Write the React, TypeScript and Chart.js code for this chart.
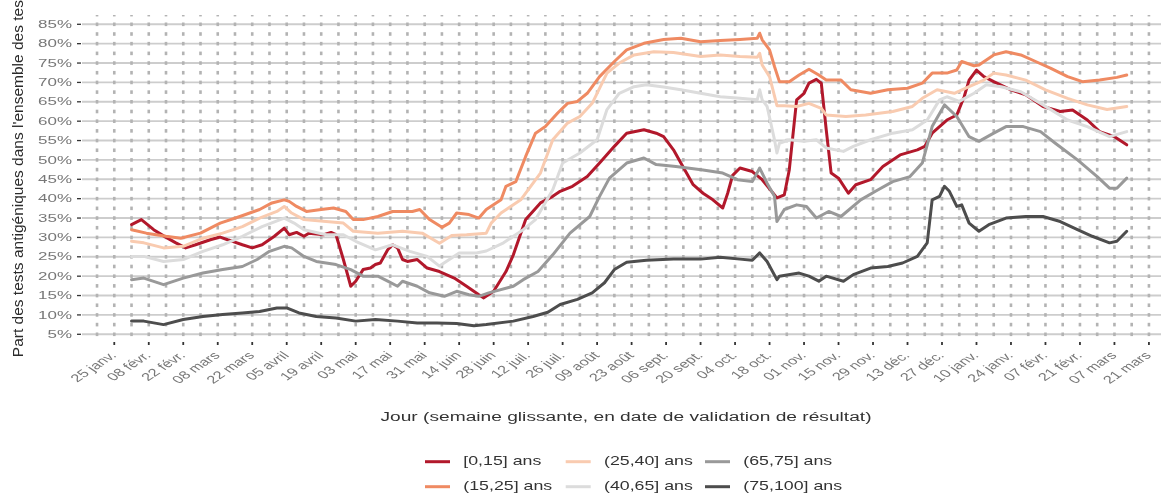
import React, { useEffect, useRef } from "react";
import { Chart, registerables } from "chart.js";

Chart.register(...registerables);

const W = 1161;
const H = 494;

// x = days since 25 Jan 2021 (data runs 1 Feb 2021 -> 12 Mar 2022)
const xTickLabels = [
  "25 janv.", "08 févr.", "22 févr.", "08 mars", "22 mars", "05 avril", "19 avril",
  "03 mai", "17 mai", "31 mai", "14 juin", "28 juin", "12 juil.", "26 juil.",
  "09 août", "23 août", "06 sept.", "20 sept.", "04 oct.", "18 oct.", "01 nov.",
  "15 nov.", "29 nov.", "13 déc.", "27 déc.", "10 janv.", "24 janv.", "07 févr.",
  "21 févr.", "07 mars", "21 mars",
];
const yTickValues = [5, 10, 15, 20, 25, 30, 35, 40, 45, 50, 55, 60, 65, 70, 75, 80, 85];

const seriesLabels = ["[0,15] ans", "(15,25] ans", "(25,40] ans", "(40,65] ans", "(65,75] ans", "(75,100] ans"];
const seriesColors = ["#B2182B", "#EF8A62", "#F9CBB0", "#DCDCDC", "#999999", "#4D4D4D"];

const age0_15Days = [7, 11, 16, 20, 25, 29, 33, 39, 43, 46, 48, 52, 56, 60, 65, 69, 71, 74, 77, 79, 85, 88, 90, 93, 96, 98, 101, 104, 106, 108, 111, 113, 115, 117, 119, 123, 127, 132, 138, 143, 148, 150, 154, 159, 162, 165, 167, 173, 178, 181, 186, 192, 197, 203, 208, 215, 220, 223, 227, 230, 235, 239, 243, 247, 249, 251, 254, 259, 263, 269, 272, 274, 276, 277, 280, 282, 285, 287, 289, 291, 294, 298, 301, 307, 312, 319, 326, 329, 332, 338, 342, 345, 347, 350, 353, 357, 364, 370, 377, 384, 389, 395, 400, 406, 411];
const age0_15Values = [33.3, 34.6, 32.0, 30.4, 28.6, 27.3, 28.1, 29.4, 30.1, 29.4, 29.0, 28.1, 27.3, 28.1, 30.3, 32.4, 30.7, 31.3, 30.3, 31.1, 30.7, 31.3, 30.7, 24.3, 17.4, 18.7, 21.7, 22.1, 23.0, 23.4, 26.8, 28.1, 27.3, 24.3, 23.8, 24.3, 22.1, 21.2, 19.5, 17.4, 15.2, 14.4, 16.1, 21.2, 25.5, 31.0, 34.6, 38.9, 40.6, 41.9, 43.2, 45.7, 49.2, 53.5, 56.9, 57.8, 56.9, 56.0, 52.6, 49.2, 43.6, 41.4, 39.7, 37.6, 41.4, 46.0, 47.9, 47.0, 44.9, 40.2, 41.0, 47.4, 59.5, 65.5, 67.2, 69.8, 70.8, 69.8, 57.8, 46.6, 45.3, 41.4, 43.6, 44.9, 48.3, 51.3, 52.6, 53.5, 56.9, 60.3, 61.6, 66.3, 70.6, 73.2, 71.5, 70.2, 68.1, 66.8, 63.8, 62.5, 62.9, 60.3, 57.3, 56.0, 53.9];

const age15_25Days = [7, 13, 21, 27, 35, 43, 51, 59, 64, 69, 71, 74, 78, 84, 89, 94, 97, 101, 107, 113, 121, 124, 128, 133, 136, 139, 144, 148, 151, 157, 159, 163, 167, 171, 175, 180, 184, 188, 192, 197, 203, 208, 215, 223, 230, 238, 246, 254, 261, 262, 263, 266, 268, 270, 274, 278, 282, 286, 289, 295, 299, 307, 314, 322, 328, 332, 338, 342, 344, 349, 351, 357, 362, 368, 374, 380, 387, 393, 400, 407, 411];
const age15_25Values = [32.0, 31.1, 30.3, 29.8, 31.1, 33.7, 35.4, 37.2, 38.9, 39.7, 39.3, 38.0, 36.7, 37.2, 37.6, 36.7, 34.6, 34.6, 35.4, 36.7, 36.7, 37.2, 34.6, 32.6, 33.7, 36.3, 35.9, 35.0, 37.2, 39.7, 43.2, 44.4, 50.9, 56.9, 58.6, 62.1, 64.6, 65.1, 67.2, 71.5, 75.4, 78.4, 80.1, 81.1, 81.4, 80.5, 80.8, 81.1, 81.4, 82.7, 81.0, 78.4, 74.1, 70.2, 70.2, 71.9, 73.4, 71.9, 70.6, 70.6, 68.1, 67.2, 68.1, 68.5, 69.8, 72.4, 72.4, 73.2, 75.4, 74.3, 74.5, 77.1, 77.9, 77.1, 75.4, 73.7, 71.5, 70.2, 70.6, 71.3, 71.9];

const age25_40Days = [7, 12, 20, 28, 36, 44, 52, 59, 66, 69, 72, 77, 86, 93, 97, 107, 117, 125, 132, 137, 143, 151, 153, 157, 165, 173, 178, 184, 189, 194, 200, 205, 211, 219, 227, 238, 246, 254, 261, 262, 263, 266, 269, 272, 277, 282, 287, 289, 297, 305, 316, 324, 328, 334, 341, 347, 353, 357, 362, 370, 378, 387, 395, 403, 411];
const age25_40Values = [29.0, 28.6, 27.3, 27.7, 29.8, 31.1, 32.8, 35.0, 36.7, 38.0, 36.3, 34.6, 34.1, 33.7, 31.6, 31.1, 31.6, 31.1, 28.5, 30.5, 30.7, 31.1, 33.7, 36.3, 39.7, 46.6, 55.2, 59.5, 61.2, 64.6, 72.4, 75.0, 77.1, 77.9, 77.7, 76.7, 77.1, 76.7, 76.5, 77.5, 74.5, 71.5, 64.0, 64.0, 63.8, 64.6, 63.3, 61.6, 61.2, 61.6, 62.5, 63.8, 65.9, 68.1, 67.2, 68.9, 70.6, 72.4, 71.9, 70.6, 68.1, 65.9, 64.2, 63.0, 63.8];

const age40_65Days = [7, 12, 20, 28, 36, 44, 52, 60, 69, 73, 77, 86, 93, 98, 106, 113, 120, 127, 132, 136, 140, 147, 151, 158, 166, 171, 178, 182, 189, 196, 200, 205, 211, 216, 223, 230, 238, 246, 254, 261, 262, 263, 265, 268, 269, 270, 274, 280, 285, 289, 296, 300, 307, 316, 324, 330, 335, 338, 343, 349, 354, 360, 368, 377, 387, 395, 404, 411];
const age40_65Values = [25.1, 25.1, 23.8, 24.3, 26.4, 28.1, 30.3, 32.8, 35.0, 33.7, 32.0, 30.7, 30.7, 29.0, 26.8, 28.1, 26.4, 25.1, 22.6, 24.3, 26.0, 26.0, 26.5, 28.6, 32.0, 34.6, 42.3, 49.2, 51.8, 55.2, 63.0, 67.2, 68.9, 69.4, 68.8, 68.1, 67.2, 66.3, 65.9, 65.5, 68.1, 65.5, 63.8, 55.2, 51.8, 54.3, 55.2, 54.8, 55.2, 53.1, 52.2, 53.5, 55.2, 56.9, 57.8, 60.3, 65.5, 66.3, 65.1, 67.2, 69.4, 68.9, 67.6, 64.2, 60.3, 58.6, 56.0, 57.3];

const age65_75Days = [7, 12, 20, 28, 36, 44, 52, 58, 63, 69, 72, 77, 82, 90, 96, 101, 107, 111, 115, 117, 123, 128, 134, 139, 144, 148, 152, 162, 166, 172, 178, 185, 193, 197, 201, 208, 215, 220, 228, 239, 247, 253, 259, 262, 265, 268, 269, 272, 277, 281, 285, 290, 295, 303, 309, 316, 323, 328, 332, 337, 342, 347, 351, 357, 362, 369, 376, 382, 391, 399, 404, 407, 411];
const age65_75Values = [19.1, 19.5, 17.8, 19.5, 20.8, 21.7, 22.5, 24.3, 26.4, 27.7, 27.3, 25.1, 23.8, 23.0, 21.7, 20.0, 20.0, 18.7, 17.4, 18.7, 17.4, 15.7, 14.8, 16.1, 15.2, 14.8, 15.7, 17.4, 19.1, 21.2, 25.5, 31.1, 35.4, 40.6, 45.3, 49.2, 50.5, 48.8, 48.3, 47.4, 46.6, 44.9, 44.4, 47.9, 44.0, 40.6, 34.1, 37.2, 38.4, 38.0, 35.0, 36.7, 35.4, 39.7, 41.9, 44.4, 45.7, 49.2, 58.6, 64.2, 61.2, 56.0, 54.8, 56.9, 58.6, 58.6, 57.3, 54.3, 50.0, 45.7, 42.7, 42.7, 45.3];

const age75_100Days = [7, 12, 20, 28, 36, 44, 52, 59, 66, 70, 75, 82, 90, 98, 106, 115, 123, 131, 139, 146, 151, 162, 170, 176, 181, 188, 194, 199, 203, 208, 216, 227, 238, 246, 254, 259, 262, 265, 269, 270, 278, 282, 286, 289, 296, 300, 307, 314, 320, 326, 330, 332, 335, 337, 339, 342, 344, 347, 351, 355, 362, 370, 377, 384, 391, 397, 404, 407, 411];
const age75_100Values = [8.4, 8.4, 7.5, 8.8, 9.6, 10.1, 10.5, 10.9, 11.8, 11.8, 10.5, 9.6, 9.2, 8.4, 8.8, 8.4, 7.9, 7.9, 7.8, 7.2, 7.5, 8.4, 9.6, 10.7, 12.7, 14.0, 15.7, 18.3, 21.7, 23.6, 24.1, 24.4, 24.4, 24.9, 24.4, 24.1, 26.0, 23.8, 19.1, 20.0, 20.8, 20.0, 18.7, 20.0, 18.7, 20.4, 22.1, 22.5, 23.4, 25.1, 28.6, 39.7, 40.6, 43.2, 41.9, 38.0, 38.4, 33.7, 31.6, 33.3, 35.0, 35.4, 35.4, 34.1, 32.0, 30.3, 28.6, 29.0, 31.6];

const seriesDays = [age0_15Days, age15_25Days, age25_40Days, age40_65Days, age65_75Days, age75_100Days];
const seriesValues = [age0_15Values, age15_25Values, age25_40Values, age40_65Values, age65_75Values, age75_100Values];

const FONT = "'Liberation Sans', Arial, Helvetica, sans-serif";

function stretchedText(
  ctx: CanvasRenderingContext2D,
  text: string,
  x: number,
  y: number,
  size: number,
  sx: number,
  align: CanvasTextAlign,
  baseline: CanvasTextBaseline,
  color: string,
  rot = 0
) {
  ctx.save();
  ctx.translate(x, y);
  ctx.scale(sx, 1);
  if (rot) ctx.rotate(rot);
  ctx.font = `${size}px ${FONT}`;
  ctx.fillStyle = color;
  ctx.textAlign = align;
  ctx.textBaseline = baseline;
  ctx.fillText(text, 0, 0);
  ctx.restore();
}

const ggPlugin = {
  id: "ggStyle",
  beforeDatasetsDraw(chart: any) {
    const { ctx, chartArea: a, scales } = chart;
    const x = scales.x;
    const y = scales.y;
    ctx.save();
    ctx.beginPath();
    ctx.rect(a.left, a.top, a.right - a.left, a.bottom - a.top);
    ctx.clip();
    ctx.strokeStyle = "#cdcdcd";
    ctx.lineWidth = 1.9;
    for (const v of yTickValues) {
      const py = y.getPixelForValue(v);
      ctx.beginPath();
      ctx.moveTo(a.left, py);
      ctx.lineTo(a.right, py);
      ctx.stroke();
    }
    ctx.fillStyle = "#b3b3b3";
    for (let d = -7; d <= x.max; d += 7) {
      const px = x.getPixelForValue(d);
      for (let v = 0; v <= 90; v += 2.5) {
        const py = y.getPixelForValue(v);
        ctx.fillRect(px - 1.3, py - 1.8, 2.6, 3.6);
      }
    }
    ctx.restore();
  },
  afterDraw(chart: any) {
    const { ctx, chartArea: a, scales } = chart;
    const x = scales.x;
    const y = scales.y;
    ctx.save();
    // y ticks
    ctx.strokeStyle = "#333";
    ctx.lineWidth = 1.3;
    for (const v of yTickValues) {
      const py = y.getPixelForValue(v);
      ctx.beginPath();
      ctx.moveTo(77, py);
      ctx.lineTo(81, py);
      ctx.stroke();
      stretchedText(ctx, `${v}%`, 72, py + 0.5, 11.3, 1.5, "right", "middle", "#777");
    }
    // x ticks
    xTickLabels.forEach((lab, i) => {
      const px = x.getPixelForValue(i * 14);
      ctx.strokeStyle = "#333";
      ctx.lineWidth = 1.8;
      ctx.beginPath();
      ctx.moveTo(px, a.bottom + 1);
      ctx.lineTo(px, a.bottom + 4);
      ctx.stroke();
      stretchedText(ctx, lab, px - 6, a.bottom + 9, 11, 1.5, "right", "top", "#777", -Math.PI / 4);
    });
    // axis titles
    ctx.save();
    ctx.translate(23, 172.6);
    ctx.rotate(-Math.PI / 2);
    ctx.font = `15.5px ${FONT}`;
    ctx.fillStyle = "#2b2b2b";
    ctx.textAlign = "center";
    ctx.textBaseline = "alphabetic";
    ctx.fillText("Part des tests antigéniques dans l'ensemble des tests", 0, 0);
    ctx.restore();
    stretchedText(ctx, "Jour (semaine glissante, en date de validation de résultat)", 626, 417, 13.7, 1.4, "center", "middle", "#333");
    // legend (3 columns x 2 rows, column-major)
    const colKeyX = [425, 565.7, 705];
    const rowY = [461.7, 486.7];
    seriesLabels.forEach((lab, i) => {
      const c = Math.floor(i / 2);
      const r = i % 2;
      const ky = rowY[r];
      ctx.strokeStyle = seriesColors[i];
      ctx.lineWidth = 3;
      ctx.beginPath();
      ctx.moveTo(colKeyX[c], ky);
      ctx.lineTo(colKeyX[c] + 25, ky);
      ctx.stroke();
      stretchedText(ctx, lab, colKeyX[c] + 38.3, ky, 12.7, 1.4, "left", "middle", "#333");
    });
    ctx.restore();
  },
};

export default function App() {
  const ref = useRef<HTMLCanvasElement>(null);
  useEffect(() => {
    if (!ref.current) return;
    const chart = new Chart(ref.current, {
      type: "line",
      data: {
        datasets: seriesLabels.map((label, i) => ({
          label,
          data: seriesDays[i].map((d, j) => ({ x: d, y: seriesValues[i][j] })),
          borderColor: seriesColors[i],
          backgroundColor: seriesColors[i],
          borderWidth: 3,
          pointRadius: 0,
          tension: 0,
          borderJoinStyle: "round" as const,
          borderCapStyle: "round" as const,
          order: 5 - i,
        })),
      },
      options: {
        animation: false,
        responsive: false,
        devicePixelRatio: 1,
        layout: { padding: { left: 82, top: 15, right: 0, bottom: 153 } },
        scales: {
          x: { type: "linear", min: -13.1, max: 424.9, display: false },
          y: { type: "linear", min: 3.27, max: 87.4, display: false },
        },
        plugins: { legend: { display: false }, tooltip: { enabled: false } },
      },
      plugins: [ggPlugin],
    });
    return () => chart.destroy();
  }, []);
  return (
    <div style={{ position: "fixed", left: 0, top: 0, width: W, height: H, background: "#fff" }}>
      <canvas
        ref={ref}
        width={W}
        height={H}
        style={{ width: W, height: H, display: "block", filter: "blur(0.3px)" }}
      />
    </div>
  );
}
